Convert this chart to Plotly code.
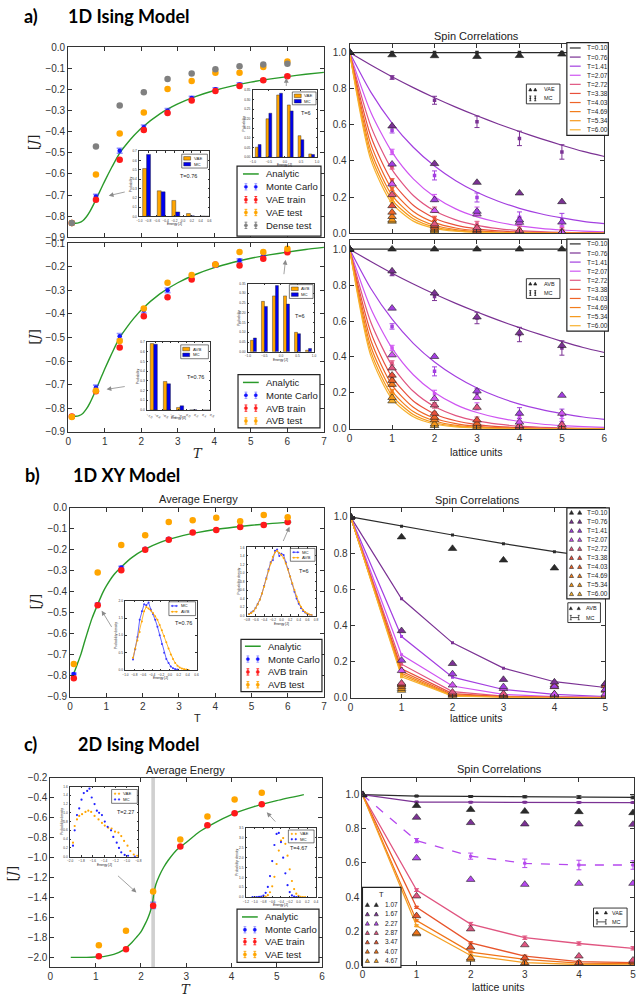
import plotly.graph_objects as go

W, H = 639, 1001
FONT = "Liberation Sans, Arial, sans-serif"
SERIF = "DejaVu Serif, serif"
HEAD = "Lato, Open Sans, sans-serif"
GREEN = "#2a9a2a"
BLUE = "#1414ff"
RED = "#ff1a1a"
ORANGE = "#ffa500"
GRAY = "#808080"

# ====================== DATA ======================
T_1d = [0.1, 0.76, 1.41, 2.07, 2.72, 3.38, 4.03, 4.69, 5.34, 6.0]
T_1d_labels = ["T=0.10", "T=0.76", "T=1.41", "T=2.07", "T=2.72", "T=3.38", "T=4.03", "T=4.69", "T=5.34", "T=6.00"]
T_1d_colors = ["#2b2b2b", "#7b3294", "#a33fe0", "#cf55f2", "#e05580", "#e8503c", "#ee6428", "#f27d1c", "#f59718", "#f7b12e"]

# a) 1D Ising, average energy
ising1d_curve_T = [0.1, 0.2, 0.3, 0.4, 0.5, 0.6, 0.7, 0.8, 0.9, 1.0, 1.2, 1.4, 1.6, 1.8, 2.0, 2.5, 3.0, 3.5, 4.0, 4.5, 5.0, 5.5, 6.0, 6.5, 7.0]
ising1d_curve_E = [-0.833, -0.834, -0.831, -0.822, -0.803, -0.776, -0.743, -0.707, -0.670, -0.634, -0.566, -0.503, -0.458, -0.418, -0.383, -0.316, -0.268, -0.232, -0.204, -0.182, -0.164, -0.150, -0.138, -0.127, -0.118]
a1_mc = [-0.833, -0.707, -0.490, -0.378, -0.300, -0.240, -0.198, -0.175, -0.155, -0.136]
a1_mc_err = [0.004, 0.010, 0.012, 0.010, 0.010, 0.008, 0.007, 0.007, 0.006, 0.006]
a1_vae_train = [-0.833, -0.722, -0.533, -0.392, -0.311, -0.251, -0.206, -0.183, -0.155, -0.136]
a1_vae_test = [-0.833, -0.603, -0.408, -0.308, -0.197, -0.159, -0.120, -0.120, -0.092, -0.066]
a1_dense_test = [-0.833, -0.470, -0.275, -0.212, -0.150, -0.123, -0.103, -0.089, -0.081, -0.077]
a_small_err = [0.003, 0.004, 0.004, 0.004, 0.004, 0.003, 0.003, 0.003, 0.003, 0.003]

a2_mc = [-0.835, -0.712, -0.495, -0.386, -0.300, -0.244, -0.195, -0.174, -0.149, -0.135]
a2_mc_err = [0.004, 0.010, 0.012, 0.010, 0.010, 0.008, 0.007, 0.007, 0.006, 0.006]
a2_avb_train = [-0.835, -0.728, -0.543, -0.410, -0.330, -0.254, -0.191, -0.195, -0.166, -0.139]
a2_avb_test = [-0.837, -0.726, -0.515, -0.377, -0.268, -0.235, -0.191, -0.138, -0.138, -0.124]

# a) inset histograms
levels_076 = [-0.833, -0.5, -0.167, 0.167, 0.5]
levels_6 = [-0.833, -0.5, -0.167, 0.167, 0.5, 0.833]
a1_h076_vae = [0.515, 0.275, 0.172, 0.031, 0.004]
a1_h076_mc = [0.666, 0.264, 0.048, 0.007, 0.003]
a1_h6_vae = [0.052, 0.200, 0.324, 0.272, 0.112, 0.017]
a1_h6_mc = [0.066, 0.229, 0.333, 0.241, 0.091, 0.014]
a2_h076_avb = [0.683, 0.294, 0.027, 0.002, 0.0]
a2_h076_mc = [0.676, 0.270, 0.044, 0.003, 0.0]
a2_h6_avb = [0.059, 0.259, 0.287, 0.287, 0.100, 0.008]
a2_h6_mc = [0.071, 0.233, 0.340, 0.245, 0.093, 0.017]

# a) spin correlations
lag_fine = [0, 0.5, 1, 1.5, 2, 2.5, 3, 3.5, 4, 4.5, 5, 5.5, 6]
ising1d_corr_curves = [
    [1.0, 1.0, 1.0, 1.0, 1.0, 1.0, 1.0, 1.0, 1.0, 1.0, 1.0, 1.0, 1.0],
    [1.0, 0.931, 0.866, 0.806, 0.750, 0.698, 0.650, 0.605, 0.563, 0.524, 0.487, 0.453, 0.425],
    [1.0, 0.781, 0.610, 0.476, 0.372, 0.291, 0.227, 0.177, 0.138, 0.108, 0.085, 0.066, 0.053],
    [1.0, 0.670, 0.449, 0.301, 0.202, 0.135, 0.091, 0.061, 0.041, 0.027, 0.018, 0.012, 0.008],
    [1.0, 0.593, 0.352, 0.209, 0.124, 0.074, 0.044, 0.026, 0.015, 0.009, 0.005, 0.003, 0.002],
    [1.0, 0.537, 0.288, 0.155, 0.083, 0.045, 0.024, 0.013, 0.007, 0.004, 0.002, 0.001, 0.001],
    [1.0, 0.493, 0.243, 0.120, 0.059, 0.029, 0.014, 0.007, 0.004, 0.002, 0.001, 0.0, 0.0],
    [1.0, 0.458, 0.210, 0.096, 0.044, 0.020, 0.009, 0.004, 0.002, 0.001, 0.0, 0.0, 0.0],
    [1.0, 0.430, 0.185, 0.080, 0.034, 0.015, 0.006, 0.003, 0.001, 0.0, 0.0, 0.0, 0.0],
    [1.0, 0.406, 0.165, 0.067, 0.027, 0.011, 0.005, 0.002, 0.001, 0.0, 0.0, 0.0, 0.0],
]
lag_1to5 = [1, 2, 3, 4, 5]
lag_0to5 = [0, 1, 2, 3, 4, 5]
ising1d_corr_mc = [
    [1.0, 1.0, 1.0, 1.0, 1.0],
    [0.862, 0.736, 0.617, 0.525, 0.450],
    [0.570, 0.320, 0.198, 0.088, 0.075],
    [0.450, 0.195, 0.125, 0.068, 0.037],
    [0.367, 0.130, 0.051, 0.024, 0.015],
    [0.290, 0.082, 0.030, 0.012, 0.006],
    [0.245, 0.060, 0.020, 0.006, 0.003],
    [0.210, 0.045, 0.012, 0.004, 0.002],
    [0.185, 0.035, 0.008, 0.002, 0.001],
    [0.165, 0.028, 0.005, 0.001, 0.001],
]
ising1d_corr_mc_err = [
    [0.0, 0.0, 0.0, 0.0, 0.0],
    [0.010, 0.022, 0.032, 0.040, 0.040],
    [0.015, 0.025, 0.025, 0.030, 0.035],
    [0.015, 0.020, 0.020, 0.020, 0.020],
    [0.012, 0.015, 0.015, 0.015, 0.015],
    [0.012, 0.012, 0.012, 0.012, 0.012],
    [0.010, 0.010, 0.010, 0.010, 0.010],
    [0.010, 0.010, 0.010, 0.010, 0.010],
    [0.010, 0.010, 0.010, 0.010, 0.010],
    [0.010, 0.010, 0.010, 0.010, 0.010],
]
ising1d_corr_vae = [
    [1.0, 0.987, 0.982, 0.978, 0.983, 0.991],
    [1.0, 0.593, 0.385, 0.281, 0.222, 0.174],
    [1.0, 0.382, 0.185, 0.121, 0.073, 0.061],
    [1.0, 0.272, 0.125, 0.106, 0.060, 0.005],
    [1.0, 0.213, 0.051, 0.030, 0.015, 0.005],
    [1.0, 0.152, 0.042, 0.020, 0.010, 0.004],
    [1.0, 0.116, 0.033, 0.012, 0.006, 0.003],
    [1.0, 0.092, 0.024, 0.008, 0.004, 0.002],
    [1.0, 0.073, 0.018, 0.005, 0.002, 0.001],
    [1.0, 0.066, 0.011, 0.003, 0.001, 0.0],
]
ising1d_corr_avb = [
    [1.0, 1.0, 1.0, 1.0, 1.0, 1.0],
    [1.0, 0.878, 0.755, 0.622, 0.534, 0.463],
    [1.0, 0.671, 0.402, 0.210, 0.086, 0.186],
    [1.0, 0.411, 0.168, 0.174, 0.037, 0.086],
    [1.0, 0.338, 0.132, 0.119, 0.018, 0.024],
    [1.0, 0.298, 0.086, 0.049, 0.010, 0.010],
    [1.0, 0.269, 0.064, 0.030, 0.006, 0.005],
    [1.0, 0.247, 0.050, 0.020, 0.004, 0.003],
    [1.0, 0.174, 0.027, 0.010, 0.002, 0.001],
    [1.0, 0.155, 0.018, 0.005, 0.001, 0.0],
]

# b) 1D XY
xy_curve_T = [0.1, 0.2, 0.3, 0.4, 0.5, 0.6, 0.76, 0.9, 1.0, 1.2, 1.41, 1.7, 2.07, 2.5, 3.0, 3.5, 4.0, 4.5, 5.0, 5.5, 6.1]
xy_curve_E = [-0.790, -0.744, -0.696, -0.637, -0.581, -0.528, -0.460, -0.404, -0.372, -0.320, -0.282, -0.237, -0.197, -0.163, -0.137, -0.118, -0.103, -0.092, -0.083, -0.075, -0.068]
xy_mc = [-0.792, -0.459, -0.284, -0.195, -0.147, -0.117, -0.105, -0.089, -0.078, -0.067]
xy_mc_err = [0.004, 0.005, 0.005, 0.004, 0.004, 0.003, 0.003, 0.003, 0.003, 0.003]
xy_avb_train = [-0.812, -0.464, -0.297, -0.200, -0.152, -0.117, -0.105, -0.091, -0.081, -0.067]
xy_avb_test = [-0.745, -0.308, -0.177, -0.130, -0.067, -0.059, -0.047, -0.064, -0.034, -0.045]

xy_h076_mc_E = [-0.83, -0.78, -0.73, -0.68, -0.63, -0.58, -0.53, -0.48, -0.43, -0.38, -0.33, -0.28, -0.23, -0.18, -0.13, -0.08, -0.03, 0.02, 0.07, 0.12, 0.17]
xy_h076_mc_P = [0.30, 0.60, 0.95, 1.45, 1.70, 1.90, 1.87, 1.95, 1.75, 1.62, 1.45, 1.25, 1.00, 0.75, 0.50, 0.32, 0.20, 0.10, 0.05, 0.02, 0.01]
xy_h076_avb_E = [-0.83, -0.78, -0.73, -0.68, -0.63, -0.58, -0.53, -0.48, -0.43, -0.38, -0.33, -0.28, -0.23, -0.18, -0.13, -0.08, -0.03, 0.02, 0.07, 0.12, 0.17, 0.22, 0.27, 0.32, 0.37, 0.42]
xy_h076_avb_P = [0.35, 0.62, 0.85, 1.10, 1.40, 1.70, 1.82, 1.78, 1.72, 1.65, 1.55, 1.45, 1.30, 1.15, 0.98, 0.80, 0.62, 0.45, 0.32, 0.20, 0.12, 0.07, 0.04, 0.02, 0.01, 0.0]
xy_h6_E = [-0.75, -0.7, -0.65, -0.6, -0.55, -0.5, -0.45, -0.4, -0.35, -0.3, -0.25, -0.2, -0.15, -0.1, -0.05, 0.0, 0.05, 0.1, 0.15, 0.2, 0.25, 0.3, 0.35, 0.4, 0.45, 0.5, 0.55, 0.6, 0.65, 0.7]
xy_h6_mc_P = [0.04, 0.07, 0.11, 0.18, 0.27, 0.38, 0.52, 0.70, 0.88, 1.08, 1.25, 1.30, 1.52, 1.55, 1.40, 1.45, 1.42, 1.25, 1.10, 0.92, 0.74, 0.56, 0.40, 0.28, 0.18, 0.11, 0.07, 0.04, 0.02, 0.01]
xy_h6_avb_P = [0.03, 0.06, 0.10, 0.17, 0.26, 0.37, 0.52, 0.68, 0.86, 1.05, 1.22, 1.38, 1.48, 1.52, 1.47, 1.42, 1.35, 1.22, 1.08, 0.92, 0.76, 0.60, 0.45, 0.32, 0.21, 0.13, 0.08, 0.05, 0.02, 0.01]

xy_corr_mc = [
    [1.0, 0.949, 0.900, 0.852, 0.808, 0.770],
    [1.0, 0.547, 0.303, 0.163, 0.088, 0.056],
    [1.0, 0.338, 0.113, 0.045, 0.018, 0.006],
    [1.0, 0.237, 0.064, 0.018, 0.005, 0.002],
    [1.0, 0.185, 0.033, 0.008, 0.002, 0.001],
    [1.0, 0.160, 0.022, 0.005, 0.001, 0.0],
    [1.0, 0.145, 0.016, 0.003, 0.001, 0.0],
    [1.0, 0.135, 0.012, 0.002, 0.0, 0.0],
    [1.0, 0.125, 0.010, 0.002, 0.0, 0.0],
    [1.0, 0.115, 0.008, 0.001, 0.0, 0.0],
]
xy_corr_avb = [
    [1.0, 0.889, 0.825, 0.761, 0.717, 0.690],
    [1.0, 0.370, 0.188, 0.100, 0.086, 0.077],
    [1.0, 0.206, 0.131, 0.060, 0.062, 0.045],
    [1.0, 0.149, 0.069, 0.050, 0.020, 0.020],
    [1.0, 0.080, 0.030, 0.022, 0.015, 0.012],
    [1.0, 0.075, 0.022, 0.016, 0.070, 0.065],
    [1.0, 0.070, 0.016, 0.012, 0.060, 0.075],
    [1.0, 0.060, 0.012, 0.010, 0.020, 0.040],
    [1.0, 0.050, 0.020, 0.010, 0.012, 0.010],
    [1.0, 0.040, 0.010, 0.005, 0.005, 0.005],
]

# c) 2D Ising
T_2d = [1.07, 1.67, 2.27, 2.87, 3.47, 4.07, 4.67]
T_2d_labels = ["1.07", "1.67", "2.27", "2.87", "3.47", "4.07", "4.67"]
T_2d_colors = ["#2b2b2b", "#7b3294", "#b548ee", "#e05580", "#e8552c", "#f07418", "#f5a024"]
ising2d_curve_T = [0.45, 0.8, 1.0, 1.2, 1.4, 1.6, 1.8, 1.9, 2.0, 2.1, 2.15, 2.2, 2.25, 2.27, 2.29, 2.33, 2.4, 2.5, 2.6, 2.8, 3.0, 3.3, 3.6, 4.0, 4.5, 5.0, 5.6]
ising2d_curve_E = [-2.0, -2.0, -1.997, -1.99, -1.97, -1.93, -1.85, -1.80, -1.745, -1.66, -1.61, -1.55, -1.47, -1.41, -1.35, -1.27, -1.19, -1.10, -1.03, -0.92, -0.85, -0.74, -0.66, -0.57, -0.49, -0.43, -0.37]
c_mc = [-1.990, -1.918, -1.479, -0.892, -0.678, -0.556, -0.467]
c_mc_err = [0.005, 0.008, 0.030, 0.010, 0.008, 0.006, 0.005]
c_vae_train = [-1.990, -1.918, -1.482, -0.890, -0.678, -0.556, -0.467]
c_small_err = [0.006, 0.006, 0.010, 0.008, 0.006, 0.006, 0.006]
c_vae_test = [-1.880, -1.733, -1.341, -0.820, -0.589, -0.418, -0.352]

c_h227_mc_E = [-1.95, -1.92, -1.88, -1.84, -1.80, -1.76, -1.70, -1.66, -1.62, -1.57, -1.53, -1.49, -1.44, -1.39, -1.34, -1.28, -1.24, -1.18, -1.14, -1.10, -1.04, -0.98, -0.86]
c_h227_mc_P = [0.25, 0.60, 0.95, 1.10, 1.30, 1.45, 1.50, 1.55, 1.35, 1.20, 1.05, 1.00, 0.95, 0.80, 0.68, 0.60, 0.45, 0.32, 0.20, 0.10, 0.04, 0.02, 0.0]
c_h227_vae_E = [-1.95, -1.92, -1.88, -1.84, -1.79, -1.73, -1.68, -1.63, -1.57, -1.50, -1.44, -1.39, -1.33, -1.27, -1.21, -1.15, -1.10, -1.05, -0.99, -0.94, -0.88, -0.82]
c_h227_vae_P = [0.32, 0.70, 0.85, 0.93, 0.97, 1.02, 1.05, 1.02, 0.93, 0.85, 0.77, 0.71, 0.66, 0.64, 0.57, 0.55, 0.47, 0.36, 0.25, 0.13, 0.05, 0.02]
c_h467_mc_E = [-1.05, -1.0, -0.95, -0.9, -0.85, -0.8, -0.75, -0.7, -0.65, -0.6, -0.55, -0.5, -0.45, -0.4, -0.35, -0.3, -0.25, -0.2, -0.15, -0.1, -0.05, 0.0]
c_h467_mc_P = [0.0, 0.0, 0.01, 0.02, 0.03, 0.08, 0.22, 0.52, 1.07, 1.83, 2.64, 3.20, 3.25, 2.79, 2.00, 1.21, 0.61, 0.26, 0.09, 0.03, 0.01, 0.0]
c_h467_vae_E = [-0.9, -0.85, -0.8, -0.75, -0.7, -0.65, -0.6, -0.55, -0.5, -0.45, -0.4, -0.35, -0.3, -0.25, -0.2, -0.15, -0.1, -0.05, 0.0, 0.05, 0.1, 0.15]
c_h467_vae_P = [0.0, 0.0, 0.01, 0.03, 0.10, 0.25, 0.55, 1.03, 1.68, 2.36, 2.86, 2.99, 2.70, 2.10, 1.41, 0.82, 0.41, 0.18, 0.07, 0.02, 0.01, 0.0]

ising2d_corr_mc = [
    [1.0, 0.992, 0.990, 0.988, 0.986, 0.984],
    [1.0, 0.957, 0.956, 0.956, 0.955, 0.954],
    [1.0, 0.731, 0.640, 0.598, 0.588, 0.588],
    [1.0, 0.441, 0.242, 0.162, 0.128, 0.100],
    [1.0, 0.340, 0.132, 0.054, 0.022, 0.016],
    [1.0, 0.262, 0.078, 0.035, 0.013, 0.010],
    [1.0, 0.232, 0.058, 0.016, 0.005, 0.003],
]
ising2d_corr_mc_err = [
    [0.0, 0.004, 0.005, 0.006, 0.008, 0.008],
    [0.0, 0.004, 0.004, 0.004, 0.004, 0.004],
    [0.0, 0.012, 0.018, 0.025, 0.028, 0.025],
    [0.0, 0.008, 0.010, 0.010, 0.010, 0.010],
    [0.0, 0.006, 0.006, 0.006, 0.005, 0.005],
    [0.0, 0.005, 0.005, 0.005, 0.004, 0.004],
    [0.0, 0.005, 0.004, 0.004, 0.003, 0.003],
]
ising2d_corr_vae = [
    [1.0, 0.936, 0.913, 0.903, 0.900, 0.894],
    [1.0, 0.867, 0.836, 0.828, 0.828, 0.826],
    [1.0, 0.629, 0.503, 0.474, 0.480, 0.480],
    [1.0, 0.406, 0.213, 0.120, 0.054, 0.030],
    [1.0, 0.290, 0.106, 0.043, 0.015, 0.020],
    [1.0, 0.190, 0.043, 0.015, 0.006, 0.005],
    [1.0, 0.184, 0.035, 0.004, 0.001, 0.001],
]

# tick values
yt_a_top = [-0.9, -0.8, -0.7, -0.6, -0.5, -0.4, -0.3, -0.2, -0.1, 0.0]
yt_a_bot = [-0.9, -0.8, -0.7, -0.6, -0.5, -0.4, -0.3, -0.2, -0.1]
yt_corr = [0.0, 0.2, 0.4, 0.6, 0.8, 1.0]
yt_c = [-2.0, -1.8, -1.6, -1.4, -1.2, -1.0, -0.8, -0.6, -0.4, -0.2]

# ====================== FIGURE ======================
fig = go.Figure()
layout = {}
shapes, annots = [], []
n_ax = [0]


def make_axes(box, xr, yr, xt, yt, xfmt, yfmt, show_xl=True, fs=10, tl=4, lw=1.0, inset=False):
    n_ax[0] += 1
    n = n_ax[0]
    s = "" if n == 1 else str(n)
    x0, y0, x1, y1 = box
    common = dict(showline=True, linecolor="#333", linewidth=lw, mirror="allticks", ticks="inside",
                  ticklen=tl, tickwidth=lw * 0.8, tickcolor="#333", showgrid=False, zeroline=False,
                  tickfont=dict(size=fs, color="#333", family=FONT), fixedrange=True)
    if inset:
        common["ticklabelstandoff"] = 1
    layout["xaxis" + s] = dict(domain=[x0 / W, min(x1 / W, 1.0)], range=xr, anchor="y" + s, tickvals=xt,
                               tickformat=xfmt, showticklabels=show_xl, **common)
    layout["yaxis" + s] = dict(domain=[1 - y1 / H, 1 - y0 / H], range=yr, anchor="x" + s, tickvals=yt,
                               tickformat=yfmt, **common)
    return ("x" + s, "y" + s)


def add(tr, ax):
    tr.update(xaxis=ax[0], yaxis=ax[1], showlegend=False, hoverinfo="skip")
    fig.add_trace(tr)


def box(x0, y0, x1, y1, lw=1.0):
    shapes.append(dict(type="rect", xref="paper", yref="paper", x0=x0 / W, x1=x1 / W, y0=1 - y1 / H,
                       y1=1 - y0 / H, line=dict(color="#222", width=lw), fillcolor="white", layer="above"))


def rectp(x0, y0, x1, y1, color, lw=0.4):
    shapes.append(dict(type="rect", xref="paper", yref="paper", x0=x0 / W, x1=x1 / W, y0=1 - y1 / H,
                       y1=1 - y0 / H, line=dict(color="#111", width=lw), fillcolor=color, layer="above"))


def seg(x0, y0, x1, y1, color, w=1.0, dash="solid"):
    shapes.append(dict(type="line", xref="paper", yref="paper", x0=x0 / W, x1=x1 / W, y0=1 - y0 / H,
                       y1=1 - y1 / H, line=dict(color=color, width=w, dash=dash), layer="above"))


def dot(xc, yc, r, color):
    shapes.append(dict(type="circle", xref="paper", yref="paper", x0=(xc - r) / W, x1=(xc + r) / W,
                       y0=1 - (yc + r) / H, y1=1 - (yc - r) / H, fillcolor=color,
                       line=dict(color=color, width=0.3), layer="above"))


def tri(xc, yc, s, color, edge="#222"):
    h = s * 0.9
    pts = [(xc - s / 2, yc + h / 2), (xc + s / 2, yc + h / 2), (xc, yc - h / 2)]
    path = "M " + " L ".join(f"{x / W:.5f},{1 - y / H:.5f}" for x, y in pts) + " Z"
    shapes.append(dict(type="path", xref="paper", yref="paper", path=path, fillcolor=color,
                       line=dict(color=edge, width=0.6), layer="above"))


def errglyph(xc, yc, h, color, r=1.5, cap=1.6, ecolor=None):
    ec = ecolor or color
    seg(xc, yc - h, xc, yc + h, ec, 0.9)
    seg(xc - cap, yc - h, xc + cap, yc - h, ec, 0.9)
    seg(xc - cap, yc + h, xc + cap, yc + h, ec, 0.9)
    dot(xc, yc, r, color)


def txt(x, y, s, size, color="#222", xanchor="left", family=FONT, angle=0, yanchor="middle"):
    annots.append(dict(xref="paper", yref="paper", x=x / W, y=1 - y / H, text=s, showarrow=False,
                       xanchor=xanchor, yanchor=yanchor, textangle=angle, borderpad=0,
                       font=dict(size=size, color=color, family=family)))


def arrow(ax, tail, head):
    annots.append(dict(xref=ax[0], yref=ax[1], axref=ax[0], ayref=ax[1], x=head[0], y=head[1],
                       ax=tail[0], ay=tail[1], showarrow=True, arrowhead=2, arrowsize=1.2,
                       arrowwidth=0.8, arrowcolor="#8a8a8a", text=""))


# ---------- main axes ----------
ax_aTL = make_axes((66, 42, 325, 234), [0, 7], [-0.9, 0.0], list(range(8)), yt_a_top, "d", ".1f", show_xl=False)
ax_aBL = make_axes((66, 240, 325, 431), [0, 7], [-0.9, -0.1], list(range(8)), yt_a_bot, "d", ".1f")
ax_aTR = make_axes((351, 38, 609, 230), [0, 6], [0, 1.05], list(range(7)), yt_corr, "d", ".1f", show_xl=False)
ax_aBR = make_axes((351, 237, 609, 428), [0, 6], [0, 1.05], list(range(7)), yt_corr, "d", ".1f")
ax_bL = make_axes((68, 508, 325, 699), [0, 7], [-0.9, 0.0], list(range(8)), yt_a_top, "d", ".1f")
ax_bR = make_axes((352, 508, 610, 700), [0, 5], [0, 1.05], list(range(6)), yt_corr, "d", ".1f")
ax_cL = make_axes((48, 781, 323, 973), [0, 6], [-2.1, -0.2], list(range(7)), yt_c, "d", ".1f")
ax_cR = make_axes((364, 781, 639, 971), [0, 5.018], [0, 1.1], list(range(6)), yt_corr, "d", ".1f")

# ---------- insets ----------
ins_fs = 3.2
i1 = make_axes((138, 147, 209, 213), [-1.0, 0.6], [0, 0.7], [-1.0, -0.8, -0.6, -0.4, -0.2, 0.0, 0.2, 0.4, 0.6],
               [0, 0.1, 0.2, 0.3, 0.4, 0.5, 0.6, 0.7], ".1f", ".1f", fs=ins_fs, tl=1.5, lw=0.6, inset=True)
i2 = make_axes((253, 85, 318, 153), [-1.0, 1.0], [0, 0.35], [-1.0, -0.5, 0.0, 0.5, 1.0],
               [0, 0.05, 0.1, 0.15, 0.2, 0.25, 0.3, 0.35], ".1f", ".2f", fs=ins_fs, tl=1.5, lw=0.6, inset=True)
i3 = make_axes((146, 340, 210, 409), [-1.0, 0.6], [0, 0.7], [-1.0, -0.8, -0.6, -0.4, -0.2, 0.0, 0.2, 0.4, 0.6],
               [0, 0.1, 0.2, 0.3, 0.4, 0.5, 0.6, 0.7], ".1f", ".1f", fs=ins_fs, tl=1.5, lw=0.6, inset=True)
i4 = make_axes((248, 281, 315, 350), [-1.0, 1.0], [0, 0.35], [-1.0, -0.5, 0.0, 0.5, 1.0],
               [0, 0.05, 0.1, 0.15, 0.2, 0.25, 0.3, 0.35], ".1f", ".2f", fs=ins_fs, tl=1.5, lw=0.6, inset=True)
i5 = make_axes((124, 602, 196, 672), [-1.0, 0.6], [0, 2.0], [-1.0, -0.8, -0.6, -0.4, -0.2, 0.0, 0.2, 0.4, 0.6],
               [0, 0.5, 1.0, 1.5, 2.0], ".1f", ".1f", fs=ins_fs, tl=1.5, lw=0.6, inset=True)
i6 = make_axes((247, 548, 317, 617), [-0.8, 0.8], [0, 1.6], [-0.8, -0.6, -0.4, -0.2, 0.0, 0.2, 0.4, 0.6, 0.8],
               [0, 0.2, 0.4, 0.6, 0.8, 1.0, 1.2, 1.4, 1.6], ".1f", ".1f", fs=ins_fs, tl=1.5, lw=0.6, inset=True)
i7 = make_axes((68, 790, 137, 861), [-2.0, -0.8], [0, 1.6], [-2.0, -1.8, -1.6, -1.4, -1.2, -1.0, -0.8],
               [0, 0.2, 0.4, 0.6, 0.8, 1.0, 1.2, 1.4, 1.6], ".1f", ".1f", fs=ins_fs, tl=1.5, lw=0.6, inset=True)
i8 = make_axes((246, 832, 317, 902), [-1.2, 0.4], [0, 3.5], [-1.2, -1.0, -0.8, -0.6, -0.4, -0.2, 0.0, 0.2, 0.4],
               [0, 0.5, 1.0, 1.5, 2.0, 2.5, 3.0, 3.5], ".1f", ".1f", fs=ins_fs, tl=1.5, lw=0.6, inset=True)


# ---------- energy panels ----------
def energy_panel(ax, cT, cE, T, mc, mc_err, others, ms=6.5):
    add(go.Scatter(x=cT, y=cE, mode="lines", line=dict(color=GREEN, width=1.4, shape="spline", smoothing=0.6)), ax)
    add(go.Scatter(x=T, y=mc, mode="markers", marker=dict(color=BLUE, size=4.5),
                   error_y=dict(type="data", array=mc_err, color="rgba(60,60,255,0.55)", thickness=1.6, width=3)), ax)
    for vals, err, col in others:
        e = dict(type="data", array=err, color=col, thickness=1.0, width=2.5) if err else None
        add(go.Scatter(x=T, y=vals, mode="markers", marker=dict(color=col, size=ms), error_y=e), ax)


energy_panel(ax_aTL, ising1d_curve_T, ising1d_curve_E, T_1d, a1_mc, a1_mc_err,
             [(a1_vae_train, a_small_err, RED), (a1_vae_test, a_small_err, ORANGE), (a1_dense_test, a_small_err, GRAY)])
energy_panel(ax_aBL, ising1d_curve_T, ising1d_curve_E, T_1d, a2_mc, a2_mc_err,
             [(a2_avb_train, a_small_err, RED), (a2_avb_test, a_small_err, ORANGE)])
energy_panel(ax_bL, xy_curve_T, xy_curve_E, T_1d, xy_mc, xy_mc_err,
             [(xy_avb_train, a_small_err, RED), (xy_avb_test, a_small_err, ORANGE)])
shapes.append(dict(type="rect", xref=ax_cL[0], yref=ax_cL[1] + " domain", x0=2.23, x1=2.31, y0=0, y1=1,
                   fillcolor="#d0d0d0", line=dict(width=0), layer="below"))
energy_panel(ax_cL, ising2d_curve_T, ising2d_curve_E, T_2d, c_mc, c_mc_err,
             [(c_vae_train, c_small_err, RED), (c_vae_test, c_small_err, ORANGE)])


# ---------- correlation panels ----------
def tri_marker(col):
    return dict(symbol="triangle-up", size=7.5, color=col, line=dict(color="rgba(30,30,30,0.85)", width=0.7))


def corr_smooth_panel(ax, model_vals):
    for k, col in enumerate(T_1d_colors):
        add(go.Scatter(x=lag_fine, y=ising1d_corr_curves[k], mode="lines",
                       line=dict(color=col, width=1.2, shape="spline", smoothing=0.7)), ax)
    for k, col in enumerate(T_1d_colors):
        add(go.Scatter(x=lag_1to5, y=ising1d_corr_mc[k], mode="markers", marker=dict(color=col, size=3.5, symbol="square"),
                       error_y=dict(type="data", array=ising1d_corr_mc_err[k], color=col, thickness=1, width=2.5)), ax)
    for k in range(len(T_1d_colors) - 1, -1, -1):
        add(go.Scatter(x=lag_0to5, y=model_vals[k], mode="markers", marker=tri_marker(T_1d_colors[k])), ax)


corr_smooth_panel(ax_aTR, ising1d_corr_vae)
corr_smooth_panel(ax_aBR, ising1d_corr_avb)

for k, col in enumerate(T_1d_colors):
    add(go.Scatter(x=lag_0to5, y=xy_corr_mc[k], mode="lines+markers", line=dict(color=col, width=1.2),
                   marker=dict(color=col, size=3, symbol="square")), ax_bR)
for k in range(len(T_1d_colors) - 1, -1, -1):
    add(go.Scatter(x=lag_0to5, y=xy_corr_avb[k], mode="markers", marker=tri_marker(T_1d_colors[k])), ax_bR)

for k, col in enumerate(T_2d_colors):
    add(go.Scatter(x=lag_0to5, y=ising2d_corr_mc[k], mode="lines+markers",
                   line=dict(color=col, width=1.3, dash="dash" if k == 2 else "solid"),
                   marker=dict(color=col, size=3, symbol="square"),
                   error_y=dict(type="data", array=ising2d_corr_mc_err[k], color=col, thickness=1, width=2.5)), ax_cR)
for k in range(len(T_2d_colors) - 1, -1, -1):
    add(go.Scatter(x=lag_0to5, y=ising2d_corr_vae[k], mode="markers", marker=tri_marker(T_2d_colors[k])), ax_cR)


# ---------- inset traces ----------
def bar_inset(ax, levels, h_model, h_mc):
    add(go.Bar(x=levels, y=h_model, width=0.09, offset=-0.09, marker=dict(color=ORANGE, line=dict(color="#222", width=0.4))), ax)
    add(go.Bar(x=levels, y=h_mc, width=0.09, offset=0.0, marker=dict(color="#0000ee", line=dict(color="#222", width=0.4))), ax)


bar_inset(i1, levels_076, a1_h076_vae, a1_h076_mc)
bar_inset(i2, levels_6, a1_h6_vae, a1_h6_mc)
bar_inset(i3, levels_076, a2_h076_avb, a2_h076_mc)
bar_inset(i4, levels_6, a2_h6_avb, a2_h6_mc)

add(go.Scatter(x=xy_h076_mc_E, y=xy_h076_mc_P, mode="lines+markers", line=dict(color="#3a3aff", width=0.8),
               marker=dict(color="#3a3aff", size=2)), i5)
add(go.Scatter(x=xy_h076_avb_E, y=xy_h076_avb_P, mode="lines+markers", line=dict(color=ORANGE, width=0.8),
               marker=dict(color=ORANGE, size=2)), i5)
add(go.Scatter(x=xy_h6_E, y=xy_h6_mc_P, mode="lines+markers", line=dict(color="#3a3aff", width=0.8),
               marker=dict(color="#3a3aff", size=2)), i6)
add(go.Scatter(x=xy_h6_E, y=xy_h6_avb_P, mode="lines+markers", line=dict(color=ORANGE, width=0.8),
               marker=dict(color=ORANGE, size=2)), i6)

add(go.Scatter(x=c_h227_vae_E, y=c_h227_vae_P, mode="markers", marker=dict(color=ORANGE, size=2.2)), i7)
add(go.Scatter(x=c_h227_mc_E, y=c_h227_mc_P, mode="markers", marker=dict(color="#2020ff", size=2.2)), i7)
add(go.Scatter(x=c_h467_vae_E, y=c_h467_vae_P, mode="markers", marker=dict(color=ORANGE, size=2.2)), i8)
add(go.Scatter(x=c_h467_mc_E, y=c_h467_mc_P, mode="markers", marker=dict(color="#2020ff", size=2.2)), i8)

# ---------- arrows ----------
arrow(ax_aTL, (1.59, -0.684), (1.11, -0.703))
arrow(ax_aTL, (5.97, -0.19), (5.97, -0.145))
arrow(ax_aBL, (1.59, -0.707), (1.05, -0.72))
arrow(ax_aBL, (5.9, -0.238), (5.95, -0.171))
arrow(ax_bL, (1.17, -0.575), (0.87, -0.49))
arrow(ax_bL, (5.86, -0.165), (6.05, -0.09))
arrow(ax_cL, (1.46, -1.17), (1.90, -1.35))
arrow(ax_cL, (5.0, -0.655), (4.78, -0.547))


# ---------- legends ----------
def main_legend(bx, ys, xm, xt, labels, colors):
    box(*bx, lw=1.2)
    seg(xm[0] - 3, ys[0], xm[1] + 3, ys[0], GREEN, 1.5)
    txt(xt, ys[0], "Analytic", 9.5)
    for y, lab, c in zip(ys[1:], labels, colors):
        ec = "rgba(80,80,255,0.6)" if c == BLUE else c
        for x in xm:
            errglyph(x, y, 3.2, c, r=1.7, cap=1.4, ecolor=ec)
        txt(xt, y, lab, 9.5)


main_legend((237, 162, 322, 233), [170, 183, 196, 209, 222], (246, 256), 265,
            ["Monte Carlo", "VAE train", "VAE test", "Dense test"], [BLUE, RED, ORANGE, GRAY])
main_legend((238, 373, 321, 427), [381, 394, 407, 420], (246, 256), 265,
            ["Monte Carlo", "AVB train", "AVB test"], [BLUE, RED, ORANGE])
main_legend((241, 641, 323, 694), [648, 661, 674, 687], (248, 258), 267,
            ["Monte Carlo", "AVB train", "AVB test"], [BLUE, RED, ORANGE])
main_legend((237, 914, 320, 968), [922, 935, 947, 960], (245, 255), 264,
            ["Monte Carlo", "VAE train", "VAE test"], [BLUE, RED, ORANGE])


def line_legend(bx, y_first, dy):
    box(*bx, lw=1.2)
    for k, (lab, col) in enumerate(zip(T_1d_labels, T_1d_colors)):
        y = y_first + k * dy
        seg(574, y, 585, y, col, 1.2)
        txt(590, y, lab, 6.5)


line_legend((571, 37, 613, 131), 42.5, 9.2)
line_legend((571, 236, 613, 329), 240.8, 9.2)

box(571, 508, 614, 600, lw=1.2)
for k, (lab, col) in enumerate(zip(T_1d_labels, T_1d_colors)):
    y = 512.5 + k * 9.15
    tri(575.7, y, 4.2, col)
    tri(584, y, 4.2, col)
    txt(590, y, lab, 6.5)

box(364, 892, 403, 973, lw=1.2)
txt(383, 899, "T", 7.5, xanchor="center")
for k, (lab, col) in enumerate(zip(T_2d_labels, T_2d_colors)):
    y = 909.5 + k * 9.45
    tri(369, y, 4.2, col)
    tri(378, y, 4.2, col)
    txt(386, y, lab, 6.5)


def small_legend(bx, y1, y2, xg, xt, lab1, mc_line=False):
    box(*bx, lw=0.9)
    tri(xg[0], y1, 3.2, "#222")
    tri(xg[1], y1, 3.2, "#222")
    if mc_line:
        seg(xg[0], y2, xg[1], y2, "#222", 0.8)
        for x in xg:
            seg(x, y2 - 2.2, x, y2 + 2.2, "#222", 0.7)
            seg(x - 1, y2 - 2.2, x + 1, y2 - 2.2, "#222", 0.7)
            seg(x - 1, y2 + 2.2, x + 1, y2 + 2.2, "#222", 0.7)
    else:
        for x in xg:
            errglyph(x, y2, 2.4, "#222", r=0.7, cap=1.0)
    txt(xt, y1, lab1, 5.5)
    txt(xt, y2, "MC", 5.5)


small_legend((530, 79, 564, 99), 84.5, 93.5, (534, 539), 547, "VAE")
small_legend((530, 276, 564, 296), 281, 290.5, (534, 539), 547, "AVB")
small_legend((572, 604, 605, 624), 609.5, 619, (575, 583), 589, "AVB", mc_line=True)
small_legend((598, 913, 632, 932), 917.5, 927, (601.5, 610.5), 616, "VAE", mc_line=True)


def inset_legend(bx, lab1, lab2, c1, c2, kind):
    x0, y0, x1, y1 = bx
    box(*bx, lw=0.6)
    ya, yb = y0 + (y1 - y0) * 0.3, y0 + (y1 - y0) * 0.72
    for y, c in ((ya, c1), (yb, c2)):
        if kind == "bar":
            rectp(x0 + 2, y - 1.8, x0 + 9, y + 1.8, c)
        elif kind == "line":
            seg(x0 + 2, y, x0 + 9, y, c, 0.8)
            dot(x0 + 3.5, y, 0.8, c)
            dot(x0 + 7.5, y, 0.8, c)
        else:
            dot(x0 + 3.5, y, 0.9, c)
            dot(x0 + 7.5, y, 0.9, c)
    txt(x0 + 11, ya, lab1, 4.3)
    txt(x0 + 11, yb, lab2, 4.3)


inset_legend((181, 150, 207, 164), "VAE", "MC", ORANGE, "#0000ee", "bar")
inset_legend((293, 87, 317, 100), "VAE", "MC", ORANGE, "#0000ee", "bar")
inset_legend((180, 343, 208, 357), "AVB", "MC", ORANGE, "#0000ee", "bar")
inset_legend((290, 282, 314, 296), "AVB", "MC", ORANGE, "#0000ee", "bar")
inset_legend((168, 603, 195, 617), "MC", "AVB", "#3a3aff", ORANGE, "line")
inset_legend((291, 549, 316, 562), "MC", "AVB", "#3a3aff", ORANGE, "line")
inset_legend((110, 793, 136, 807), "VAE", "MC", ORANGE, "#2020ff", "dot")
inset_legend((289, 834, 315, 847), "VAE", "MC", ORANGE, "#2020ff", "dot")

txt(188, 172, "T=0.76", 5.5, xanchor="center")
txt(307, 108, "T=6", 5.5, xanchor="center")
txt(195, 375, "T=0.76", 5.5, xanchor="center")
txt(301, 314, "T=6", 5.5, xanchor="center")
txt(183, 624, "T=0.76", 5.5, xanchor="center")
txt(305, 572, "T=6", 5.5, xanchor="center")
txt(124, 816, "T=2.27", 5.5, xanchor="center")
txt(299, 852, "T=4.67", 5.5, xanchor="center")

# inset axis titles
for (x0, y0, x1, y1), ylab in [((138, 147, 209, 213), "Probability"), ((253, 85, 318, 153), "Probability"),
                               ((146, 340, 210, 409), "Probability"), ((248, 281, 315, 350), "Probability"),
                               ((124, 602, 196, 672), "Probability density"), ((247, 548, 317, 617), "Probability density"),
                               ((68, 790, 137, 861), "Probability density"), ((246, 832, 317, 902), "Probability density")]:
    txt(x0 - 9, (y0 + y1) / 2, ylab, 3.3, angle=-90, xanchor="center")
    txt((x0 + x1) / 2, y1 + 8, "Energy [J]", 3.3, xanchor="center")

# ---------- titles and axis labels ----------
txt(20, 10, "<b>a)</b>", 18, "#000", family=HEAD)
txt(65, 10, "<b>1D Ising Model</b>", 18, "#000", family=HEAD)
txt(21, 475, "<b>b)</b>", 18, "#000", family=HEAD)
txt(70, 475, "<b>1D XY Model</b>", 18, "#000", family=HEAD)
txt(20, 747, "<b>c)</b>", 18, "#000", family=HEAD)
txt(75, 747, "<b>2D Ising Model</b>", 18, "#000", family=HEAD)

txt(480, 30, "Spin Correlations", 11, xanchor="center")
txt(198, 499, "Average Energy", 11, xanchor="center")
txt(481, 500, "Spin Correlations", 11, xanchor="center")
txt(185, 773, "Average Energy", 11, xanchor="center")
txt(503, 772, "Spin Correlations", 11, xanchor="center")

txt(480, 451, "lattice units", 10.5, xanchor="center")
txt(480, 721, "lattice units", 10.5, xanchor="center")
txt(502, 993, "lattice units", 10.5, xanchor="center")

txt(197, 453, "<i>T</i>", 13, xanchor="center", family=SERIF)
txt(197, 721, "T", 11, xanchor="center")
txt(185, 995, "<i>T</i>", 13, xanchor="center", family=SERIF)

txt(31, 138, "[<i>J</i>]", 13, xanchor="center", family=SERIF, angle=-90)
txt(32, 335, "[<i>J</i>]", 13, xanchor="center", family=SERIF, angle=-90)
txt(33, 603, "[<i>J</i>]", 13, xanchor="center", family=SERIF, angle=-90)
txt(10, 878, "[<i>J</i>]", 13, xanchor="center", family=SERIF, angle=-90)

layout.update(dict(width=W, height=H, margin=dict(l=0, r=0, t=0, b=0), paper_bgcolor="white",
                   plot_bgcolor="white", showlegend=False, barmode="overlay",
                   font=dict(family=FONT, color="#222"), shapes=shapes, annotations=annots))
fig.update_layout(**layout)

fig.write_html("out.html", config={"displayModeBar": False},
               post_script="document.body.style.margin='0';document.body.style.overflow='hidden';")
